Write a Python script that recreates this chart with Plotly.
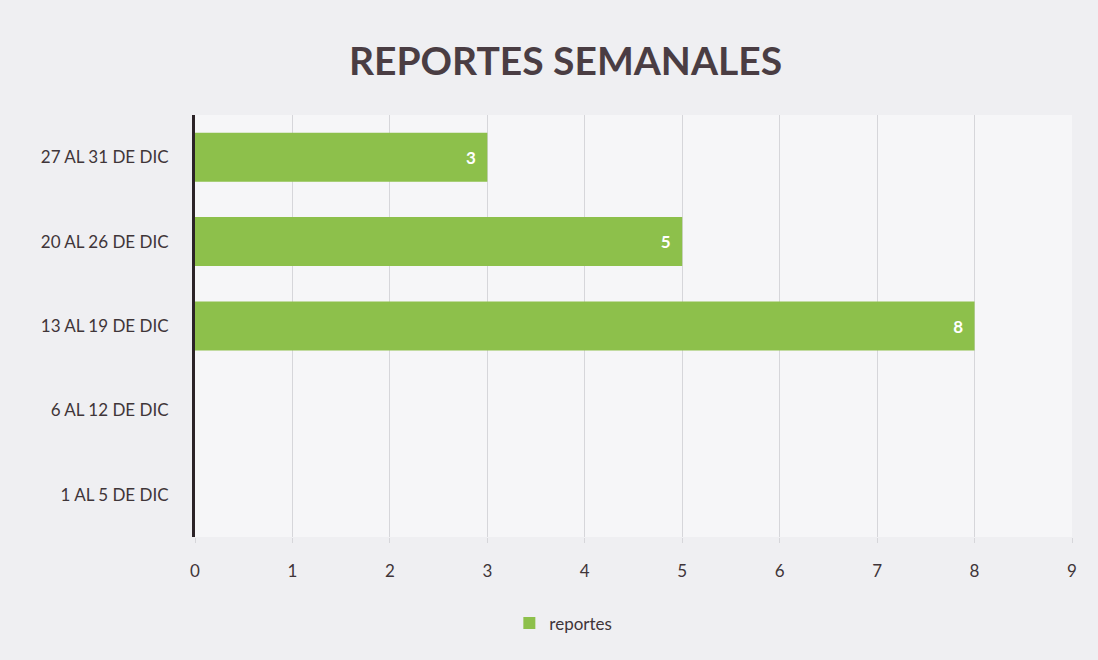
"""Weekly reports horizontal bar chart."""

import plotly.graph_objects as go

WEEKS = ["1 AL 5 DE DIC", "6 AL 12 DE DIC", "13 AL 19 DE DIC", "20 AL 26 DE DIC", "27 AL 31 DE DIC"]
REPORTES = [0, 0, 8, 5, 3]
X_TICKS = [0, 1, 2, 3, 4, 5, 6, 7, 8, 9]

GREEN = "#8DC04B"
TEXT = "#3F3539"
PAPER = "#EFEFF2"
GRID = "#D6D6DA"

fig = go.Figure(
    go.Bar(
        y=WEEKS,
        x=REPORTES,
        orientation="h",
        name="reportes",
        marker={"color": GREEN, "line": {"width": 0}},
        text=[f"<b>{v}</b>\u2002" if v else "" for v in REPORTES],
        textposition="inside",
        insidetextanchor="end",
        textfont={"color": "white", "size": 17, "family": "Lato"},
        cliponaxis=False,
    )
)

fig.update_layout(
    width=1098,
    height=660,
    paper_bgcolor=PAPER,
    plot_bgcolor="#F6F6F8",
    margin={"l": 195, "r": 26, "t": 115, "b": 123},
    bargap=0.42,
    font={"family": "Lato", "color": TEXT, "size": 17},
    title={
        "text": "<b>REPORTES SEMANALES</b>",
        "font": {"size": 39, "color": "#4A3D43", "family": "Lato"},
        "x": 0.515,
        "xanchor": "center",
        "y": 0.907,
        "yanchor": "middle",
    },
    showlegend=True,
    legend={
        "orientation": "h",
        "x": 0.42,
        "xanchor": "center",
        "y": -0.205,
        "yanchor": "middle",
        "font": {"size": 17, "color": TEXT},
        "bgcolor": "rgba(0,0,0,0)",
    },
    uniformtext={"mode": "show", "minsize": 10},
)

fig.update_xaxes(
    range=[0, 9],
    tickvals=X_TICKS,
    showgrid=True,
    gridcolor=GRID,
    gridwidth=1,
    zeroline=False,
    showline=False,
    ticks="outside",
    ticklen=5,
    tickcolor=GRID,
    ticklabelstandoff=14,
    tickfont={"size": 17, "color": TEXT},
)
fig.update_yaxes(
    showgrid=False,
    zeroline=False,
    showline=True,
    linecolor="#2B2327",
    linewidth=3,
    ticks="",
    ticklabelstandoff=20,
    tickfont={"size": 17, "color": TEXT},
)

fig.write_html(
    "out.html",
    config={"displayModeBar": False},
    post_script="document.body.style.margin='0';",
)
